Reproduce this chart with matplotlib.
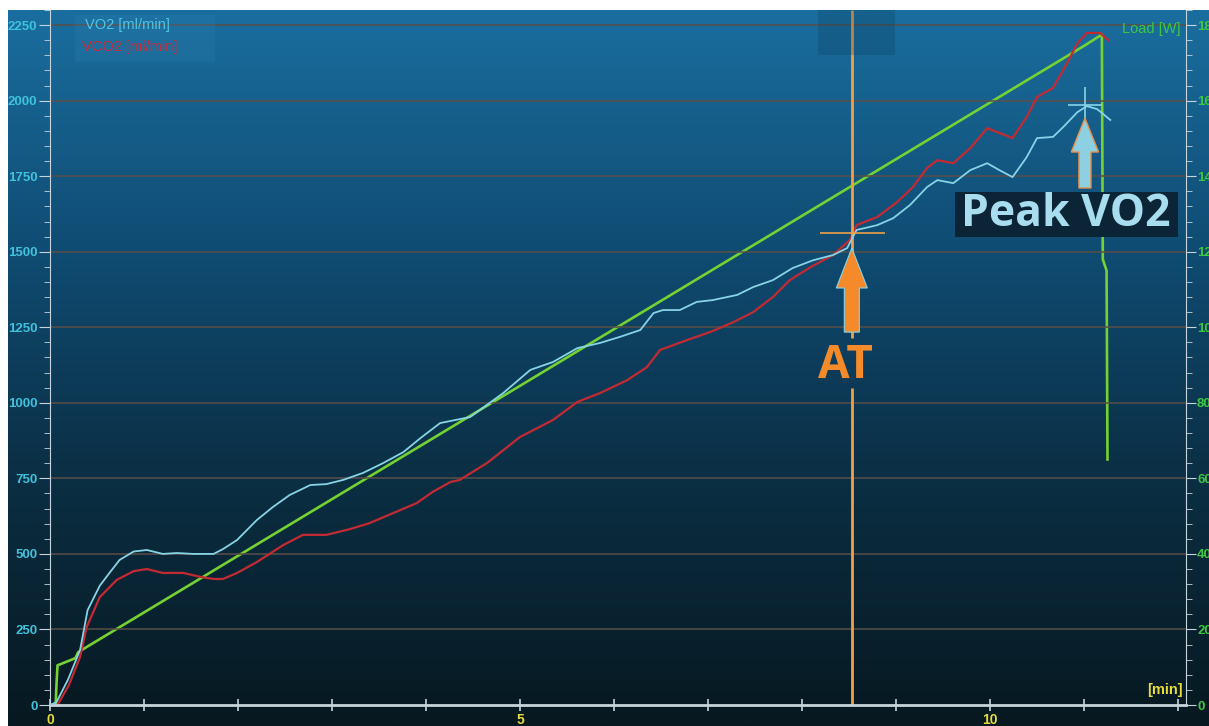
import numpy as np
import matplotlib
matplotlib.use("Agg")
import matplotlib.pyplot as plt
from matplotlib.colors import LinearSegmentedColormap
from matplotlib.patches import FancyArrow, Rectangle
from matplotlib.ticker import MultipleLocator

# VO2 [ml/min]
vo2_t = [0.00, 0.07, 0.19, 0.32, 0.40, 0.53, 0.64, 0.74, 0.89, 1.03, 1.20, 1.35, 1.52,
         1.74, 1.84, 1.99, 2.20, 2.37, 2.55, 2.77, 2.94, 3.12, 3.33, 3.54, 3.76, 3.94,
         4.15, 4.47, 4.82, 5.11, 5.35, 5.61, 5.85, 6.06, 6.28, 6.42, 6.52, 6.70, 6.88,
         7.05, 7.31, 7.48, 7.69, 7.90, 8.12, 8.33, 8.48, 8.58, 8.80, 8.97, 9.15, 9.33,
         9.44, 9.61, 9.79, 9.97, 10.10, 10.24, 10.39, 10.50, 10.67, 10.78, 10.93, 11.03,
         11.14, 11.28]
vo2 = [0, 10, 83, 182, 314, 395, 440, 480, 508, 513, 500, 503, 500,
       500, 516, 546, 612, 655, 695, 728, 731, 745, 768, 800, 837, 883,
       933, 953, 1032, 1109, 1135, 1181, 1198, 1218, 1241, 1297, 1307, 1307, 1334,
       1340, 1357, 1383, 1406, 1446, 1472, 1489, 1512, 1572, 1588, 1611, 1655, 1714,
       1737, 1727, 1770, 1793, 1770, 1747, 1813, 1876, 1880, 1913, 1962, 1982,
       1972, 1936]

# VCO2 [ml/min]
vco2_t = [0.00, 0.08, 0.20, 0.32, 0.39, 0.53, 0.71, 0.89, 1.03, 1.20, 1.42, 1.60, 1.74,
          1.84, 1.99, 2.20, 2.48, 2.69, 2.94, 3.19, 3.40, 3.65, 3.90, 4.07, 4.26, 4.36,
          4.65, 5.00, 5.35, 5.61, 5.85, 6.14, 6.35, 6.49, 6.78, 7.02, 7.27, 7.48, 7.69,
          7.87, 8.09, 8.33, 8.51, 8.58, 8.80, 9.01, 9.18, 9.33, 9.44, 9.61, 9.79, 9.97,
          10.10, 10.24, 10.39, 10.50, 10.67, 10.82, 10.93, 11.03, 11.17, 11.26]
vco2 = [0, 0, 65, 159, 258, 357, 414, 443, 450, 437, 437, 424, 417,
        417, 437, 473, 529, 563, 563, 582, 602, 635, 668, 705, 738, 745,
        801, 887, 943, 1003, 1032, 1075, 1118, 1175, 1208, 1234, 1267, 1300, 1350,
        1406, 1449, 1489, 1539, 1588, 1615, 1664, 1714, 1777, 1803, 1793, 1843, 1909,
        1893, 1876, 1946, 2012, 2042, 2124, 2190, 2224, 2224, 2200]

# Load [W]
load_t = [0, 0.06, 0.07, 0.08, 0.27, 0.30, 1, 2, 3, 4, 5, 6, 7, 8, 9, 10, 11,
          11.19, 11.20, 11.24, 11.25]
load_w = [0, 0, 6, 10.5, 12.4, 14, 24.5, 39.5, 54.5, 69.5, 84.5, 99.5, 114.5, 129.5,
          144.5, 159.5, 174.5, 177.5, 118, 115, 65]

at_time, at_vo2 = 8.53, 1562
peak_time, peak_vo2 = 11.01, 1985

W, H = 1209, 726
fig = plt.figure(figsize=(W / 100, H / 100), dpi=100, facecolor="white")

# gradient background
bg = fig.add_axes([8 / W, 0, 1 - 8 / W, (H - 10) / H])
cmap = LinearSegmentedColormap.from_list(
    "bg", [(0, "#1a6e9f"), (0.35, "#0f4a70"), (0.65, "#0b2f44"), (1, "#071820")])
bg.imshow(np.linspace(0, 1, 256).reshape(-1, 1), cmap=cmap, aspect="auto")
bg.axis("off")
bg.set_zorder(-10)

ax = fig.add_axes([50 / W, (H - 705) / H, (1186 - 50) / W, (705 - 10) / H])
ax2 = ax.twinx()
ax.set_zorder(ax2.get_zorder() + 1)
ax.patch.set_visible(False)
ax2.patch.set_visible(False)

ax.set_xlim(0, 12.085)
ax.set_ylim(0, 2300)
ax2.set_ylim(0, 184)

lab_font = ["Liberation Sans Narrow", "Liberation Sans", "DejaVu Sans"]
ann_font = ["Open Sans", "DejaVu Sans"]

for y in range(250, 2251, 250):
    ax.axhline(y, color="#5a4f47", lw=1.1, zorder=0)

ax2.plot(load_t, load_w, color="#74d232", lw=1.9)
ax.plot(vo2_t, vo2, color="#86d4e6", lw=1.3, zorder=3)
ax.plot(vco2_t, vco2, color="#c42a32", lw=1.6, zorder=2)

# AT marker
ax.vlines(at_time, 0, 1049, color="#f0a048", lw=2)
ax.vlines(at_time, 1214, 2300, color="#f0a048", lw=2)
ax.hlines(at_vo2, 8.19, 8.88, color="#f0a048", lw=1.2, zorder=4)
ax.add_patch(FancyArrow(at_time, 1234, 0, 278, width=0.16, head_width=0.33,
                        head_length=132, length_includes_head=True,
                        fc="#f58a2b", ec="#86d4e6", lw=0.8, zorder=5))
ax.text(8.46, 1125, "AT", color="#f58a2b", fontsize=33, fontweight="bold",
        family=ann_font, ha="center", va="center", zorder=5)

# Peak VO2 marker
ax.vlines(peak_time, 1936, 2045, color="#86d4e6", lw=1.2, zorder=4)
ax.hlines(peak_vo2, 10.83, 11.19, color="#86d4e6", lw=1.2, zorder=4)
ax.add_patch(FancyArrow(peak_time, 1711, 0, 231, width=0.128, head_width=0.29,
                        head_length=112, length_includes_head=True,
                        fc="#8dd0e2", ec="#e8904a", lw=1, zorder=5))
ax.add_patch(Rectangle((9.63, 1549), 2.37, 149, fc="#0b2536", ec="none", zorder=5))
ax.text(10.81, 1623, "Peak VO2", color="#a8dcef", fontsize=32, fontweight="bold",
        family=ann_font, ha="center", va="center", zorder=6)

# axes styling
spine_c = "#c8d4dc"
ax.spines["top"].set_visible(False)
ax2.spines["top"].set_visible(False)
ax.spines["left"].set_color(spine_c)
ax.spines["bottom"].set_color(spine_c)
ax.spines["bottom"].set_linewidth(2)
ax2.spines["right"].set_color(spine_c)
ax2.spines["left"].set_visible(False)
ax2.spines["bottom"].set_visible(False)
ax.spines["right"].set_visible(False)

ax.set_xticks([0, 5, 10])
ax.xaxis.set_minor_locator(MultipleLocator(1))
ax.set_yticks(range(0, 2251, 250))
ax.yaxis.set_minor_locator(MultipleLocator(50))
ax2.set_yticks(range(0, 181, 20))
ax2.yaxis.set_minor_locator(MultipleLocator(4))

ax.tick_params(axis="x", which="both", direction="inout", length=9, width=1.2,
               color=spine_c, labelcolor="#e6dc3c", labelsize=10, pad=1)
ax.tick_params(axis="y", which="major", direction="out", length=8, color=spine_c,
               labelcolor="#3fc2dc", labelsize=9.5, pad=1)
ax.tick_params(axis="y", which="minor", direction="out", length=4, color=spine_c)
ax2.tick_params(axis="y", which="major", direction="out", length=7, color=spine_c,
                labelcolor="#3cc840", labelsize=9.5, pad=1)
ax2.tick_params(axis="y", which="minor", direction="out", length=4, color=spine_c)
for lbl in ax.get_xticklabels() + ax.get_yticklabels() + ax2.get_yticklabels():
    lbl.set_family(lab_font)
    lbl.set_fontweight("bold")

# legend area
fig.patches.append(Rectangle((75 / W, 1 - 62 / H), 140 / W, 47 / H, fc="#3a90c0",
                             alpha=0.15, ec="none", transform=fig.transFigure))
fig.patches.append(Rectangle((818 / W, 1 - 55 / H), 77 / W, 45 / H, fc="#0b3a58",
                             alpha=0.25, ec="none", transform=fig.transFigure))
fig.text(85 / W, 1 - 25 / H, "VO2 [ml/min]", color="#52c4e0", fontsize=10.5,
         family=lab_font, va="center")
fig.text(82 / W, 1 - 47 / H, "VCO2 [ml/min]", color="#d02a36", fontsize=10.5,
         family=lab_font, va="center")
fig.text(1180 / W, 1 - 29 / H, "Load [W]", color="#3cc840", fontsize=10.5,
         family=lab_font, ha="right", va="center")
fig.text(1183 / W, 1 - 690 / H, "[min]", color="#e6dc3c", fontsize=10.5,
         fontweight="bold", family=lab_font, ha="right", va="center")

fig.savefig("out.png", dpi=100)
